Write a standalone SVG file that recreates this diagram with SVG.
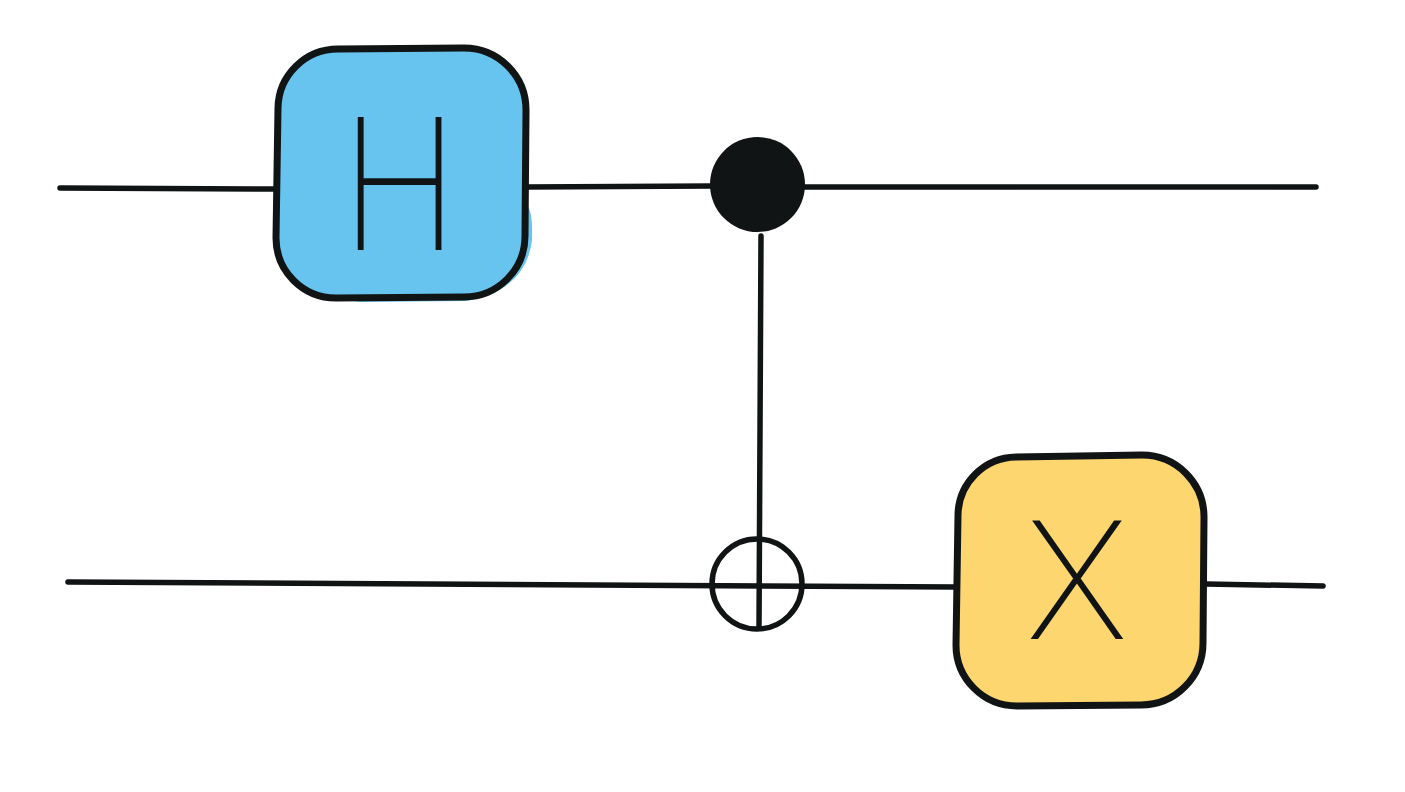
<svg xmlns="http://www.w3.org/2000/svg" width="1405" height="792" viewBox="0 0 1405 792">
<style>
.w{fill:none;stroke:#111414;stroke-width:5.500;stroke-linecap:round;stroke-linejoin:round}
.o{stroke:#111414;stroke-width:7;stroke-linecap:round;stroke-linejoin:round}
.t{font-family:Roboto,"Liberation Sans",sans-serif;font-weight:100;fill:#111414;stroke:#111414;stroke-width:1.800;text-anchor:middle}
</style>
<rect width="1405" height="792" fill="#fff"/>
<g id="connectors">
<path class="w" d="M60 188L276 189"/>
<path class="w" d="M526 187L712 186"/>
<path class="w" d="M803 187L1316 187"/>
<path class="w" d="M68 582L957 587"/>
<path class="w" d="M1206 584L1323 586"/>
<path class="w" d="M761 236L759 628"/>
</g>
<g id="h-gate">
<path d="M338 49L463 48A62 62 0 0 1 526 110L527 205Q533 212 532 240Q526 290 467 301L360 302L336 298A60 60 0 0 1 276 238L278 108A60 60 0 0 1 338 49Z" fill="#66c4ef"/>
<path class="o" fill="none" d="M338 49L463 48A62 62 0 0 1 526 110L525 236A61 61 0 0 1 464 297L336 298A60 60 0 0 1 276 238L278 108A60 60 0 0 1 338 49Z"/>
<text class="t" transform="translate(399.500 249) scale(0.88 1)" font-size="184">H</text>
</g>
<g id="control-dot">
<circle cx="757.500" cy="184.500" r="47.500" fill="#111414"/>
</g>
<g id="target">
<circle cx="757" cy="584" r="45" fill="none" stroke="#111414" stroke-width="5.500"/>
</g>
<g id="x-gate">
<path class="o" fill="#fed66f" d="M1016 457L1142 455A62 62 0 0 1 1204 517L1203 643A62 62 0 0 1 1141 705L1017 706A61 61 0 0 1 956 645L958 515A59 59 0 0 1 1016 457Z"/>
<text class="t" x="1077" y="638" font-size="164">X</text>
</g>
</svg>
